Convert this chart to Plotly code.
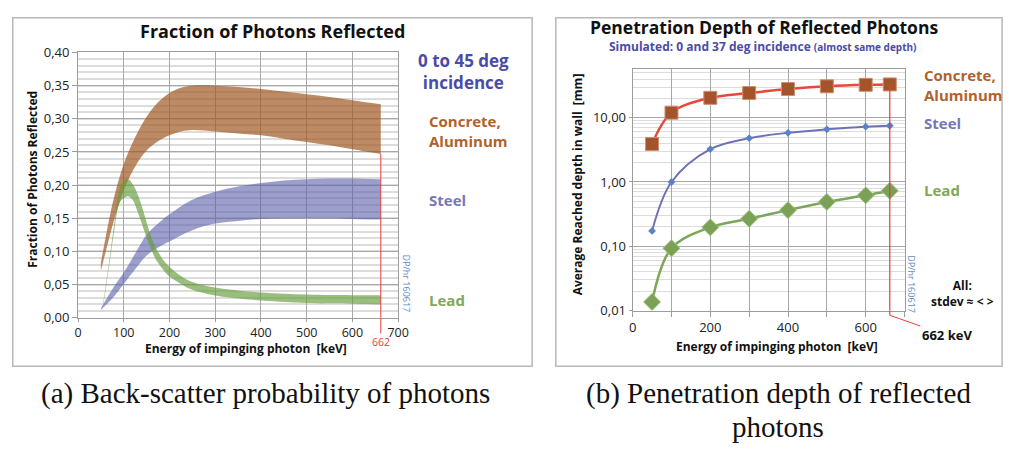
import plotly.graph_objects as go

# ---------------- data ----------------
# (a) fraction of photons reflected: bands (upper / lower) vs energy [keV]
conc_x = [50, 60, 70, 80, 90, 100, 125, 150, 175, 200, 225, 250, 300, 350, 400, 450, 500, 550, 600, 662]
conc_hi = [0.083, 0.12, 0.155, 0.185, 0.21, 0.232, 0.272, 0.303, 0.325, 0.339, 0.347, 0.35, 0.35, 0.348, 0.345, 0.341, 0.337, 0.333, 0.328, 0.322]
conc_lo = [0.071, 0.098, 0.125, 0.15, 0.172, 0.192, 0.228, 0.252, 0.266, 0.275, 0.281, 0.283, 0.281, 0.278, 0.275, 0.270, 0.265, 0.260, 0.254, 0.247]

steel_x = [50, 75, 100, 125, 150, 175, 200, 250, 300, 350, 400, 450, 500, 550, 600, 662]
steel_hi = [0.014, 0.043, 0.068, 0.097, 0.125, 0.142, 0.156, 0.178, 0.19, 0.198, 0.203, 0.207, 0.209, 0.21, 0.21, 0.209]
steel_lo = [0.012, 0.029, 0.051, 0.073, 0.094, 0.106, 0.115, 0.132, 0.142, 0.146, 0.149, 0.150, 0.150, 0.150, 0.149, 0.148]

lead_x = [52, 60, 70, 80, 90, 100, 110, 120, 130, 140, 150, 160, 170, 180, 190, 200, 225, 250, 300, 400, 500, 600, 662]
lead_hi = [0.008, 0.045, 0.095, 0.145, 0.192, 0.207, 0.209, 0.201, 0.187, 0.167, 0.144, 0.122, 0.106, 0.094, 0.084, 0.077, 0.063, 0.054, 0.0455, 0.038, 0.035, 0.034, 0.034]
lead_lo = [0.006, 0.040, 0.088, 0.135, 0.172, 0.180, 0.183, 0.177, 0.160, 0.141, 0.121, 0.103, 0.088, 0.078, 0.069, 0.062, 0.051, 0.042, 0.0335, 0.026, 0.022, 0.021, 0.020]

# (b) penetration depth [mm] vs energy [keV]
depth_x = [50, 100, 200, 300, 400, 500, 600, 662]
depth_concrete = [3.9, 12.0, 20.4, 24.2, 28.0, 30.8, 32.5, 33.0]
depth_steel = [0.173, 1.0, 3.25, 4.8, 5.83, 6.6, 7.26, 7.5]
depth_lead = [0.0136, 0.093, 0.197, 0.268, 0.365, 0.49, 0.62, 0.73]

E_MARK = 662

# tick labels
xa_ticks = [0, 100, 200, 300, 400, 500, 600, 700]
xa_text = ["0", "100", "200", "300", "400", "500", "600", "700"]
ya_ticks = [0, 0.05, 0.10, 0.15, 0.20, 0.25, 0.30, 0.35, 0.40]
ya_text = ["0,00", "0,05", "0,10", "0,15", "0,20", "0,25", "0,30", "0,35", "0,40"]
xb_ticks = [0, 100, 200, 300, 400, 500, 600, 700]
xb_text = ["0", "", "200", "", "400", "", "600", ""]
yb_ticks = [0.01, 0.1, 1, 10]
yb_text = ["0,01", "0,10", "1,00", "10,00"]

# ---------------- layout helpers ----------------
# the page body has an 8px default margin: figure is offset by 8px
OFF = 8
W, H = 1018 - OFF, 449 - OFF
FONT = "Open Sans"


def px(x):
    return (x - OFF) / W


def py(y):
    return 1 - (y - OFF) / H


fig = go.Figure()

C_CONC = "rgba(160,90,35,0.70)"
C_STEEL = "rgba(90,95,170,0.60)"
C_LEAD = "rgba(100,155,55,0.65)"


def band(x, lo, hi, color):
    fig.add_trace(go.Scatter(x=x, y=lo, mode="lines", line=dict(width=0, shape="spline"),
                             showlegend=False, hoverinfo="skip", xaxis="x", yaxis="y"))
    fig.add_trace(go.Scatter(x=x, y=hi, mode="lines", line=dict(width=0, shape="spline"),
                             fill="tonexty", fillcolor=color,
                             showlegend=False, hoverinfo="skip", xaxis="x", yaxis="y"))


band(conc_x, conc_lo, conc_hi, C_CONC)
band(steel_x, steel_lo, steel_hi, C_STEEL)
band(lead_x, lead_lo, lead_hi, C_LEAD)

fig.add_trace(go.Scatter(x=depth_x, y=depth_concrete, mode="lines+markers",
                         line=dict(color="#e8473a", width=2.5, shape="spline"),
                         marker=dict(symbol="square", size=13, color="#a4542a",
                                     line=dict(color="#cf8e70", width=1)),
                         showlegend=False, xaxis="x2", yaxis="y2"))
fig.add_trace(go.Scatter(x=depth_x, y=depth_steel, mode="lines+markers",
                         line=dict(color="#6e72b4", width=2, shape="spline"),
                         marker=dict(symbol="diamond", size=6, color="#5a82c8"),
                         showlegend=False, xaxis="x2", yaxis="y2"))
fig.add_trace(go.Scatter(x=depth_x, y=depth_lead, mode="lines+markers",
                         line=dict(color="#7ea65a", width=2.5, shape="spline"),
                         marker=dict(symbol="diamond", size=13, color="#7aa155",
                                     line=dict(color="#9cc07a", width=1)),
                         showlegend=False, xaxis="x2", yaxis="y2"))

GRID = "#a8a8a8"
MINOR = "#dcdcdc"
AXL = "#9c9c9c"
tickfont = dict(family=FONT, size=13, color="#222222")
tickfont_x = dict(family=FONT, size=12.5, color="#222222")

# domains
A_X = [px(75), px(400)]
A_Y = [py(321.5), py(45)]
B_X = [px(638), px(914)]
B_Y = [py(314), py(61.7)]

fig.update_layout(
    width=W, height=H, margin=dict(l=0, r=0, t=0, b=0),
    paper_bgcolor="white", plot_bgcolor="white", showlegend=False,
    xaxis=dict(domain=A_X, range=[0, 700], anchor="y", tickvals=xa_ticks, ticktext=xa_text,
               showgrid=True, gridcolor=GRID, gridwidth=1, zeroline=False,
               showline=True, linecolor=AXL, mirror=True, ticks="outside", ticklen=3,
               tickcolor=AXL, tickfont=tickfont_x),
    yaxis=dict(domain=A_Y, range=[0, 0.4], anchor="x", tickvals=ya_ticks, ticktext=ya_text,
               showgrid=True, gridcolor=GRID, gridwidth=1, zeroline=False,
               minor=dict(dtick=0.01, showgrid=True, gridcolor=MINOR, gridwidth=2),
               showline=True, linecolor=AXL, mirror=True, ticks="outside", ticklen=5,
               tickcolor=AXL, tickfont=tickfont),
    xaxis2=dict(domain=B_X, range=[0, 700], anchor="y2", tickvals=xb_ticks, ticktext=xb_text,
                showgrid=True, gridcolor=GRID, gridwidth=1, zeroline=False,
                showline=True, linecolor=AXL, mirror=True, ticks="outside", ticklen=5,
                tickcolor=AXL, tickfont=tickfont),
    yaxis2=dict(domain=B_Y, type="log", range=[-2, 1.766], anchor="x2",
                tickvals=yb_ticks, ticktext=yb_text,
                showgrid=True, gridcolor=GRID, gridwidth=1, zeroline=False,
                minor=dict(dtick="D1", showgrid=True, gridcolor=MINOR, gridwidth=1),
                showline=True, linecolor=AXL, mirror=True, ticks="outside", ticklen=3,
                tickcolor=AXL, tickfont=tickfont),
)

# frames and red marker lines
RED = "#e83c3c"
shapes = [
    dict(type="rect", xref="paper", yref="paper", x0=px(8.8), x1=px(536), y0=py(372), y1=py(8.8),
         line=dict(color="#b8b8b8", width=1.5), layer="below"),
    dict(type="rect", xref="paper", yref="paper", x0=px(560), x1=px(1013), y0=py(372), y1=py(8.8),
         line=dict(color="#b8b8b8", width=1.5), layer="below"),
    dict(type="line", xref="x", yref="y", x0=E_MARK, x1=E_MARK, y0=0, y1=conc_lo[-1],
         line=dict(color=RED, width=1)),
    dict(type="line", xref="x", yref="paper", x0=E_MARK, x1=E_MARK, y0=py(338), y1=A_Y[0],
         line=dict(color=RED, width=1)),
    dict(type="line", xref="x2", yref="y2", x0=E_MARK, x1=E_MARK, y0=0.01, y1=depth_concrete[-1],
         line=dict(color=RED, width=1.2)),
    dict(type="line", xref="x2", yref="paper", x0=E_MARK, x1=E_MARK, y0=py(319), y1=B_Y[0],
         line=dict(color=RED, width=1.2)),
]
fig.update_layout(shapes=shapes)

BLUE = "#4b4ba8"
BROWN = "#b0622a"
STEEL = "#7677b8"
GREEN = "#80a858"
STAMP = "#5b8ac8"


def ann(text, x, y, size, color="#111111", xanchor="center", angle=0, family=FONT, align="center"):
    return dict(text=text, x=px(x), y=py(y), xref="paper", yref="paper", showarrow=False,
                xanchor=xanchor, yanchor="middle", textangle=angle, align=align,
                font=dict(family=family, size=size, color=color))


anns = [
    # chart (a)
    ann("<b>Fraction of Photons Reflected</b>", 272, 23, 18),
    ann("<b>Fraction of Photons Reflected</b>", 28, 177, 12, angle=-90),
    ann("<b>Energy of impinging photon&nbsp; [keV]</b>", 246, 354, 12),
    ann("<b>0 to 45 deg<br>incidence</b>", 466, 65, 17, color=BLUE),
    ann("<b>Concrete,<br>Aluminum</b>", 429, 127, 15, color=BROWN, xanchor="left", align="left"),
    ann("<b>Steel</b>", 429, 199, 15, color=STEEL, xanchor="left"),
    ann("<b>Lead</b>", 429, 303, 15, color=GREEN, xanchor="left"),
    ann("DP/hr 160617", 408, 286, 9, color=STAMP, angle=90),
    ann("662", 383, 347, 10.5, color=RED),
    # chart (b)
    ann("<b>Penetration Depth of Reflected Photons</b>", 771, 18, 17.5),
    ann("<b>Simulated: 0 and 37 deg incidence <span style='font-size:10px'>(almost same depth)</span></b>",
        770, 39, 12, color=BLUE),
    ann("<b>Average Reached depth in wall&nbsp; [mm]</b>", 582, 182, 12, angle=-90),
    ann("<b>Energy of impinging photon&nbsp; [keV]</b>", 785, 351, 12),
    ann("<b>Concrete,<br>Aluminum</b>", 932, 79, 15, color=BROWN, xanchor="left", align="left"),
    ann("<b>Steel</b>", 932, 119, 15, color=STEEL, xanchor="left"),
    ann("<b>Lead</b>", 932, 188, 15, color=GREEN, xanchor="left"),
    ann("<b>All:<br>stdev ≈ &lt; &gt;</b>", 973, 296, 12),
    ann("DP/hr 160617", 921, 287, 9, color=STAMP, angle=90),
    # captions
    ann("(a) Back-scatter probability of photons", 265, 401, 29, family="Liberation Serif"),
    ann("(b) Penetration depth of reflected", 786, 401, 29, family="Liberation Serif"),
    ann("photons", 786, 435, 29, family="Liberation Serif"),
]
anns.append(dict(text="<b>662 keV</b>", x=E_MARK, xref="x2", y=py(319), yref="paper",
                 showarrow=True, arrowhead=0, arrowwidth=1, arrowcolor=RED, ax=57, ay=20,
                 standoff=0, font=dict(family=FONT, size=13, color="#111111")))
fig.update_layout(annotations=anns)

fig.write_html("out.html")
